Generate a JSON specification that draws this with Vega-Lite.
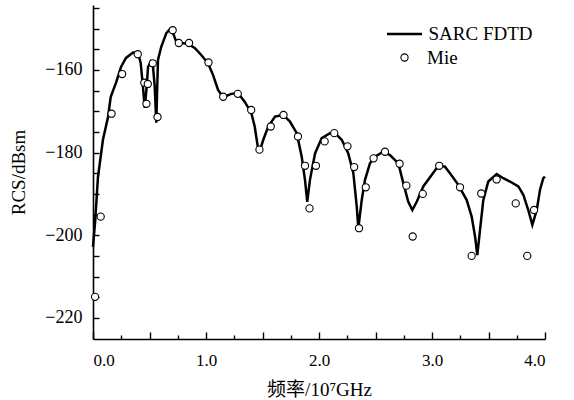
{
  "$schema": "https://vega.github.io/schema/vega-lite/v6.json",
  "width": 452,
  "height": 334,
  "autosize": {"type": "none"},
  "padding": {"left": 93, "top": 5, "right": 29, "bottom": 61},
  "background": "white",
  "config": {
    "view": {"stroke": null},
    "font": "Liberation Serif",
    "axis": {
      "domainColor": "black",
      "domainWidth": 1.6,
      "tickColor": "black",
      "tickWidth": 1.4,
      "labelColor": "black",
      "labelFont": "Liberation Serif",
      "labelFontSize": 18,
      "titleFont": "Liberation Serif, Noto Sans CJK SC",
      "titleFontSize": 19,
      "titleFontWeight": "normal",
      "titleColor": "black",
      "grid": false
    },
    "legend": {
      "labelFont": "Liberation Serif",
      "labelFontSize": 19,
      "labelColor": "black",
      "padding": 0
    }
  },
  "resolve": {"scale": {"color": "independent"}},
  "datasets": {
    "fdtd": [
      {"f": 0.0, "rcs": -202.8}, {"f": 0.02, "rcs": -196.3}, {"f": 0.044, "rcs": -185.9},
      {"f": 0.088, "rcs": -176.9}, {"f": 0.133, "rcs": -171.4}, {"f": 0.157, "rcs": -166.5},
      {"f": 0.204, "rcs": -163.1}, {"f": 0.248, "rcs": -159.3}, {"f": 0.292, "rcs": -157.1},
      {"f": 0.354, "rcs": -155.8}, {"f": 0.398, "rcs": -155.9}, {"f": 0.422, "rcs": -158.3},
      {"f": 0.442, "rcs": -164.1}, {"f": 0.458, "rcs": -169.2}, {"f": 0.475, "rcs": -164.1},
      {"f": 0.487, "rcs": -159.3}, {"f": 0.511, "rcs": -158.0}, {"f": 0.531, "rcs": -159.2},
      {"f": 0.546, "rcs": -164.0}, {"f": 0.56, "rcs": -172.8}, {"f": 0.575, "rcs": -157.6},
      {"f": 0.604, "rcs": -154.4}, {"f": 0.649, "rcs": -151.1}, {"f": 0.679, "rcs": -150.2},
      {"f": 0.708, "rcs": -151.1}, {"f": 0.737, "rcs": -153.2}, {"f": 0.781, "rcs": -153.5},
      {"f": 0.841, "rcs": -153.7}, {"f": 0.9, "rcs": -154.7}, {"f": 0.958, "rcs": -156.4},
      {"f": 1.018, "rcs": -158.4}, {"f": 1.062, "rcs": -161.2}, {"f": 1.106, "rcs": -164.8},
      {"f": 1.15, "rcs": -166.6}, {"f": 1.224, "rcs": -165.8}, {"f": 1.283, "rcs": -165.6},
      {"f": 1.342, "rcs": -167.7}, {"f": 1.401, "rcs": -170.4}, {"f": 1.431, "rcs": -173.7},
      {"f": 1.46, "rcs": -178.9}, {"f": 1.478, "rcs": -179.4}, {"f": 1.507, "rcs": -176.9},
      {"f": 1.551, "rcs": -173.7}, {"f": 1.611, "rcs": -171.3}, {"f": 1.684, "rcs": -170.9},
      {"f": 1.743, "rcs": -172.5}, {"f": 1.803, "rcs": -175.3}, {"f": 1.847, "rcs": -181.0},
      {"f": 1.876, "rcs": -186.6}, {"f": 1.896, "rcs": -191.9}, {"f": 1.92, "rcs": -186.6},
      {"f": 1.965, "rcs": -180.2}, {"f": 2.024, "rcs": -176.5}, {"f": 2.097, "rcs": -175.3},
      {"f": 2.142, "rcs": -175.3}, {"f": 2.201, "rcs": -176.9}, {"f": 2.259, "rcs": -180.2},
      {"f": 2.304, "rcs": -185.0}, {"f": 2.334, "rcs": -193.1}, {"f": 2.348, "rcs": -198.3},
      {"f": 2.378, "rcs": -191.5}, {"f": 2.407, "rcs": -186.6}, {"f": 2.451, "rcs": -182.6},
      {"f": 2.496, "rcs": -181.0}, {"f": 2.569, "rcs": -179.8}, {"f": 2.628, "rcs": -180.6},
      {"f": 2.702, "rcs": -182.6}, {"f": 2.746, "rcs": -187.4}, {"f": 2.79, "rcs": -191.9},
      {"f": 2.826, "rcs": -193.9}, {"f": 2.865, "rcs": -191.9}, {"f": 2.923, "rcs": -188.2},
      {"f": 2.997, "rcs": -185.4}, {"f": 3.056, "rcs": -183.2}, {"f": 3.115, "rcs": -183.4},
      {"f": 3.159, "rcs": -185.0}, {"f": 3.233, "rcs": -187.8}, {"f": 3.307, "rcs": -191.5},
      {"f": 3.351, "rcs": -195.5}, {"f": 3.381, "rcs": -200.3}, {"f": 3.401, "rcs": -204.8},
      {"f": 3.425, "rcs": -198.7}, {"f": 3.454, "rcs": -191.5}, {"f": 3.498, "rcs": -187.0},
      {"f": 3.573, "rcs": -185.2}, {"f": 3.631, "rcs": -186.2}, {"f": 3.69, "rcs": -187.0},
      {"f": 3.764, "rcs": -188.2}, {"f": 3.808, "rcs": -190.2}, {"f": 3.852, "rcs": -193.9},
      {"f": 3.888, "rcs": -197.5}, {"f": 3.927, "rcs": -193.9}, {"f": 3.956, "rcs": -189.0},
      {"f": 3.985, "rcs": -186.2}, {"f": 4.0, "rcs": -185.8}
    ],
    "mie": [
      {"f": 0.018, "rcs": -214.9}, {"f": 0.068, "rcs": -195.5},
      {"f": 0.164, "rcs": -170.6}, {"f": 0.258, "rcs": -161.0},
      {"f": 0.396, "rcs": -156.2}, {"f": 0.454, "rcs": -163.1},
      {"f": 0.485, "rcs": -163.4}, {"f": 0.473, "rcs": -168.2},
      {"f": 0.529, "rcs": -158.4}, {"f": 0.571, "rcs": -171.4},
      {"f": 0.705, "rcs": -150.4}, {"f": 0.759, "rcs": -153.5},
      {"f": 0.85, "rcs": -153.5}, {"f": 1.022, "rcs": -158.2},
      {"f": 1.152, "rcs": -166.5}, {"f": 1.281, "rcs": -165.8},
      {"f": 1.4, "rcs": -169.7}, {"f": 1.473, "rcs": -179.3},
      {"f": 1.573, "rcs": -173.7}, {"f": 1.686, "rcs": -170.9},
      {"f": 1.814, "rcs": -176.1}, {"f": 1.876, "rcs": -183.2},
      {"f": 1.973, "rcs": -183.2}, {"f": 1.916, "rcs": -193.5},
      {"f": 2.05, "rcs": -177.3}, {"f": 2.135, "rcs": -175.3},
      {"f": 2.252, "rcs": -178.5}, {"f": 2.311, "rcs": -183.5},
      {"f": 2.354, "rcs": -198.3}, {"f": 2.414, "rcs": -188.4},
      {"f": 2.483, "rcs": -181.4}, {"f": 2.584, "rcs": -179.8},
      {"f": 2.713, "rcs": -182.7}, {"f": 2.773, "rcs": -188.0},
      {"f": 2.829, "rcs": -200.3}, {"f": 2.918, "rcs": -190.0},
      {"f": 3.064, "rcs": -183.2}, {"f": 3.248, "rcs": -188.4},
      {"f": 3.351, "rcs": -205.0}, {"f": 3.436, "rcs": -189.9},
      {"f": 3.572, "rcs": -186.5}, {"f": 3.741, "rcs": -192.3},
      {"f": 3.843, "rcs": -205.0}, {"f": 3.903, "rcs": -193.9}
    ]
  },
  "encoding": {
    "x": {
      "field": "f",
      "type": "quantitative",
      "scale": {"domain": [0, 4], "nice": false, "zero": false},
      "axis": {
        "title": "频率/10⁷GHz",
        "values": [0, 0.25, 0.5, 0.75, 1, 1.25, 1.5, 1.75, 2, 2.25, 2.5, 2.75, 3, 3.25, 3.5, 3.75, 4],
        "labelExpr": "datum.value % 1 === 0 ? format(datum.value, '.1f') : ''",
        "tickSize": {"condition": {"test": "datum.value % 0.5 === 0", "value": -7}, "value": -4},
        "labelPadding": 20,
        "labelFontSize": 17,
        "titlePadding": 12
      }
    },
    "y": {
      "field": "rcs",
      "type": "quantitative",
      "scale": {"domain": [-225.1, -144.3], "nice": false, "zero": false},
      "axis": {
        "title": "RCS/dBsm",
        "values": [-220, -215, -210, -205, -200, -195, -190, -185, -180, -175, -170, -165, -160, -155, -150, -145],
        "labelExpr": "datum.value % 20 === 0 ? datum.label : ''",
        "tickSize": -6,
        "labelPadding": 17,
        "titlePadding": 16
      }
    }
  },
  "layer": [
    {
      "data": {"name": "fdtd"},
      "mark": {"type": "line", "strokeWidth": 2.5},
      "encoding": {
        "color": {
          "datum": "SARC FDTD",
          "type": "nominal",
          "scale": {"range": ["black"]},
          "legend": {
            "title": null,
            "orient": "none",
            "legendX": 292.5,
            "legendY": 10,
            "symbolType": "stroke",
            "symbolSize": 1225,
            "symbolStrokeWidth": 2.5,
            "symbolStrokeColor": "black",
            "labelOffset": 5
          }
        }
      }
    },
    {
      "data": {"name": "mie"},
      "mark": {"type": "point", "shape": "circle", "filled": false, "fill": "white", "fillOpacity": 1, "strokeOpacity": 1, "opacity": 1, "strokeWidth": 1.1, "size": 52},
      "encoding": {
        "color": {
          "datum": "Mie",
          "type": "nominal",
          "scale": {"range": ["black"]},
          "legend": {
            "title": null,
            "orient": "none",
            "legendX": 302,
            "legendY": 43,
            "symbolType": "circle",
            "symbolSize": 52,
            "symbolStrokeWidth": 1.1,
            "symbolFillColor": "white",
            "symbolOpacity": 1,
            "labelOffset": 13
          }
        }
      }
    }
  ]
}
